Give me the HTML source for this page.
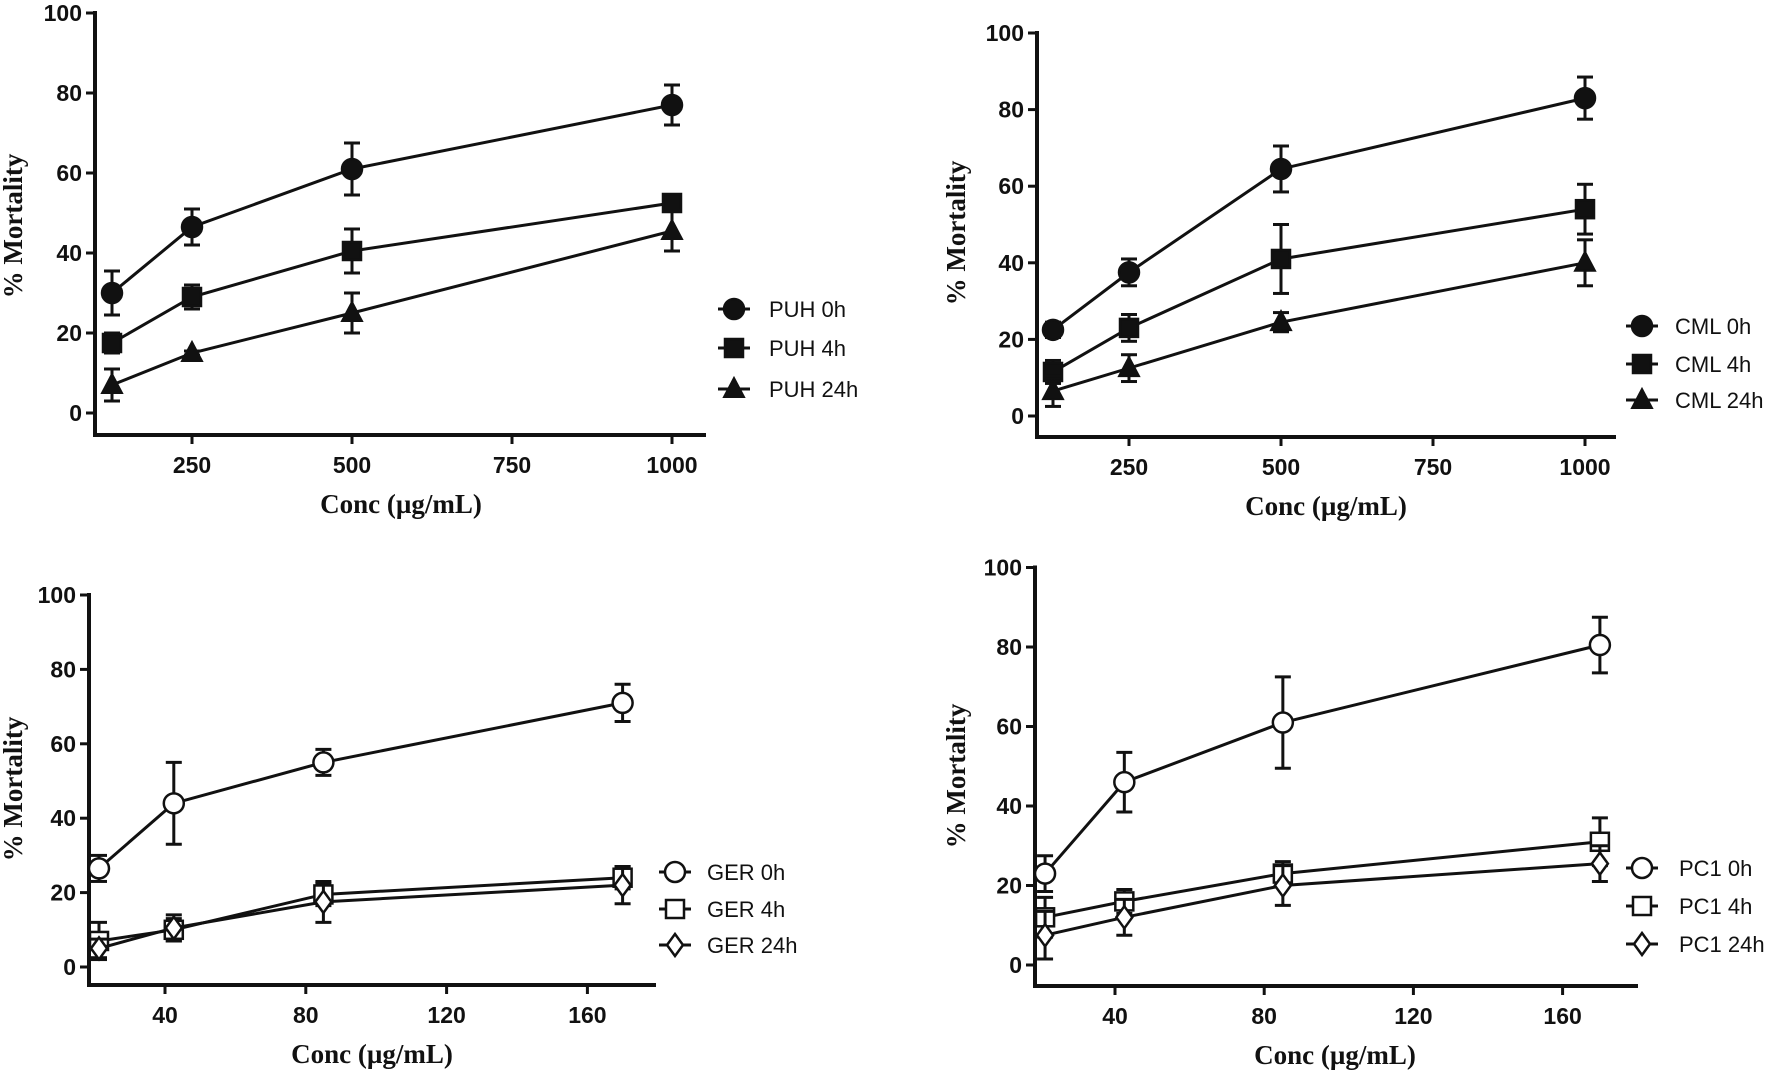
<!DOCTYPE html>
<html><head><meta charset="utf-8"><style>
html,body{margin:0;padding:0;background:#fff;}
svg{display:block;}
.tick{font-family:"Liberation Sans Narrow","Liberation Sans",sans-serif;font-weight:bold;font-size:23px;fill:#111;}
.leg{font-family:"Liberation Sans Narrow","Liberation Sans",sans-serif;font-size:22px;fill:#111;}
.title{font-family:"Liberation Serif",serif;font-weight:bold;font-size:27px;fill:#111;}
</style></head><body>
<svg id="fig" width="1772" height="1072" viewBox="0 0 1772 1072" xmlns="http://www.w3.org/2000/svg"></svg>
<script>
// Panel A (PUH)
const puhConc = [125, 250, 500, 1000];
const puh0h = [30, 46.5, 61, 77];
const puh0hErr = [5.5, 4.5, 6.5, 5];
const puh4h = [17.5, 29, 40.5, 52.5];
const puh4hErr = [2.5, 3, 5.5, 1];
const puh24h = [7, 15, 25, 45.5];
const puh24hErr = [4, 0.5, 5, 5];
// Panel B (CML)
const cmlConc = [125, 250, 500, 1000];
const cml0h = [22.5, 37.5, 64.5, 83];
const cml0hErr = [2, 3.5, 6, 5.5];
const cml4h = [11.5, 23, 41, 54];
const cml4hErr = [3, 3.5, 9, 6.5];
const cml24h = [6.5, 12.5, 24.5, 40];
const cml24hErr = [4, 3.5, 2.5, 6];
// Panel C (GER)
const gerConc = [21.25, 42.5, 85, 170];
const ger0h = [26.5, 44, 55, 71];
const ger0hErr = [3.5, 11, 3.5, 5];
const ger4h = [7, 10, 19.5, 24];
const ger4hErr = [5, 3, 3, 3];
const ger24h = [5, 10.5, 17.5, 22];
const ger24hErr = [2.5, 3.5, 5.5, 5];
// Panel D (PC1)
const pcConc = [21.25, 42.5, 85, 170];
const pc0h = [23, 46, 61, 80.5];
const pc0hErr = [4.5, 7.5, 11.5, 7];
const pc4h = [12, 16, 23, 31];
const pc4hErr = [5, 3, 3, 6];
const pc24h = [7.5, 12, 20, 25.5];
const pc24hErr = [6, 4.5, 5, 4.5];

const yTicks = [0, 20, 40, 60, 80, 100];
const xTicksBig = [250, 500, 750, 1000];
const xTicksSmall = [40, 80, 120, 160];

const NS = "http://www.w3.org/2000/svg";
const fig = document.getElementById('fig');
function mk(tag, attrs, parent) {
  const e = document.createElementNS(NS, tag);
  for (const k in attrs) e.setAttribute(k, attrs[k]);
  parent.appendChild(e);
  return e;
}

function marker(g, shape, filled, cx, cy) {
  const fill = filled ? '#111' : '#fff';
  let m;
  if (shape === 'circle') m = mk('ellipse', {cx: cx, cy: cy, rx: 10, ry: 10, fill: fill, stroke: '#111', 'stroke-width': 2.5}, g);
  else if (shape === 'square') m = mk('rect', {x: cx - 9, y: cy - 9, width: 18, height: 18, fill: fill, stroke: '#111', 'stroke-width': 2.5}, g);
  else if (shape === 'triangle') m = mk('polygon', {points: (cx) + ',' + (cy - 11) + ' ' + (cx - 10) + ',' + (cy + 8) + ' ' + (cx + 10) + ',' + (cy + 8), fill: fill, stroke: '#111', 'stroke-width': 2}, g);
  else m = mk('polygon', {points: cx + ',' + (cy - 11) + ' ' + (cx + 8) + ',' + cy + ' ' + cx + ',' + (cy + 11) + ' ' + (cx - 8) + ',' + cy, fill: fill, stroke: '#111', 'stroke-width': 2.5}, g);
  return m;
}

function panel(p) {
  const g = mk('g', {}, fig);
  
  
  const xs = v => p.x0 + (v - p.xv0) * p.xk;
  const ys = v => p.y0 - v * p.yk;
  // axes
  const ya = mk('line', {x1: p.ax, y1: ys(100) - 2, x2: p.ax, y2: p.axY + 2, stroke: '#111', 'stroke-width': 4}, g);
  
  
  const xa = mk('line', {x1: p.ax - 2, y1: p.axY, x2: p.axEnd, y2: p.axY, stroke: '#111', 'stroke-width': 4}, g);
  
  
  yTicks.forEach(t => {
    mk('line', {x1: p.ax - 9, y1: ys(t), x2: p.ax, y2: ys(t), stroke: '#111', 'stroke-width': 3}, g);
    const tx = mk('text', {x: p.ax - 13, y: ys(t) + 8, 'text-anchor': 'end', class: 'tick'}, g);
    tx.textContent = t;
    
    
  });
  p.xticks.forEach(t => {
    mk('line', {x1: xs(t), y1: p.axY, x2: xs(t), y2: p.axY + 9, stroke: '#111', 'stroke-width': 3}, g);
    const tx = mk('text', {x: xs(t), y: p.axY + 38, 'text-anchor': 'middle', class: 'tick'}, g);
    tx.textContent = t;
    
    
  });
  const xt = mk('text', {x: p.xtX, y: p.axY + 78, 'text-anchor': 'middle', class: 'title'}, g);
  xt.textContent = 'Conc (\u00b5g/mL)';
  
  
  const yt = mk('text', {x: 0, y: 0, 'text-anchor': 'middle', class: 'title', transform: 'translate(' + p.ytX + ',' + p.ytY + ') rotate(-90)'}, g);
  yt.textContent = '% Mortality';
  
  
  // series
  p.series.forEach((s, si) => {
    const sg = mk('g', {}, g);
    
    
    const pts = p.conc.map((c, i) => xs(c) + ',' + ys(s.vals[i])).join(' ');
    mk('polyline', {points: pts, fill: 'none', stroke: '#111', 'stroke-width': 3}, sg);
    p.conc.forEach((c, i) => {
      const cx = xs(c), top = ys(s.vals[i] + s.err[i]), bot = ys(s.vals[i] - s.err[i]);
      mk('line', {x1: cx, y1: top, x2: cx, y2: bot, stroke: '#111', 'stroke-width': 3}, sg);
      mk('line', {x1: cx - 8, y1: top, x2: cx + 8, y2: top, stroke: '#111', 'stroke-width': 3}, sg);
      mk('line', {x1: cx - 8, y1: bot, x2: cx + 8, y2: bot, stroke: '#111', 'stroke-width': 3}, sg);
      const m = marker(sg, s.shape, p.filled, cx, ys(s.vals[i]));
      
      
    });
    // legend
    const ly = p.legY[si];
    const lg = mk('g', {}, g);
    
    
    mk('line', {x1: p.legX - 16, y1: ly, x2: p.legX + 16, y2: ly, stroke: '#111', 'stroke-width': 3}, lg);
    marker(lg, s.shape, p.filled, p.legX, ly);
    const lt = mk('text', {x: p.legTX, y: ly + 8, class: 'leg'}, lg);
    lt.textContent = s.label;
  });
}

panel({name: 'panel-puh', filled: true, conc: puhConc, xticks: xTicksBig,
  ax: 95, axY: 435, axEnd: 706, x0: 192, xv0: 250, xk: 0.64, y0: 413, yk: 4.0,
  xtX: 401, ytX: 22, ytY: 226, legX: 734, legTX: 769, legY: [309, 348, 389],
  series: [{label: 'PUH 0h', shape: 'circle', vals: puh0h, err: puh0hErr},
           {label: 'PUH 4h', shape: 'square', vals: puh4h, err: puh4hErr},
           {label: 'PUH 24h', shape: 'triangle', vals: puh24h, err: puh24hErr}]});
panel({name: 'panel-cml', filled: true, conc: cmlConc, xticks: xTicksBig,
  ax: 1037, axY: 437, axEnd: 1616, x0: 1129, xv0: 250, xk: 0.608, y0: 416, yk: 3.83,
  xtX: 1326, ytX: 965, ytY: 233, legX: 1642, legTX: 1675, legY: [326, 364, 400],
  series: [{label: 'CML 0h', shape: 'circle', vals: cml0h, err: cml0hErr},
           {label: 'CML 4h', shape: 'square', vals: cml4h, err: cml4hErr},
           {label: 'CML 24h', shape: 'triangle', vals: cml24h, err: cml24hErr}]});
panel({name: 'panel-ger', filled: false, conc: gerConc, xticks: xTicksSmall,
  ax: 89, axY: 985, axEnd: 656, x0: 165, xv0: 40, xk: 3.52, y0: 967, yk: 3.72,
  xtX: 372, ytX: 22, ytY: 789, legX: 675, legTX: 707, legY: [872, 909, 945],
  series: [{label: 'GER 0h', shape: 'circle', vals: ger0h, err: ger0hErr},
           {label: 'GER 4h', shape: 'square', vals: ger4h, err: ger4hErr},
           {label: 'GER 24h', shape: 'diamond', vals: ger24h, err: ger24hErr}]});
panel({name: 'panel-pc1', filled: false, conc: pcConc, xticks: xTicksSmall,
  ax: 1035, axY: 986, axEnd: 1638, x0: 1115, xv0: 40, xk: 3.73, y0: 965, yk: 3.975,
  xtX: 1335, ytX: 965, ytY: 776, legX: 1642, legTX: 1679, legY: [868, 906, 944],
  series: [{label: 'PC1 0h', shape: 'circle', vals: pc0h, err: pc0hErr},
           {label: 'PC1 4h', shape: 'square', vals: pc4h, err: pc4hErr},
           {label: 'PC1 24h', shape: 'diamond', vals: pc24h, err: pc24hErr}]});
</script>
</body></html>
